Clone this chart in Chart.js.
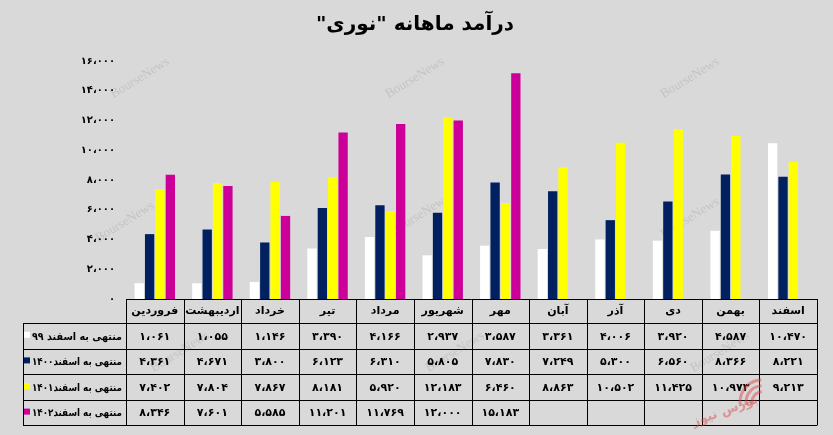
<!DOCTYPE html>
<html>
<head>
<meta charset="utf-8">
<script src="https://cdn.jsdelivr.net/npm/chart.js@4.4.0/dist/chart.umd.min.js"></script>
<style>
  html, body { margin: 0; padding: 0; background: #d9d9d9; }
  #wrap { width: 833px; height: 435px; position: relative; }
</style>
</head>
<body>
<div id="wrap"><canvas id="c" width="833" height="435"></canvas></div>
<script>
const title = 'درآمد ماهانه "نوری"';
const months = ['فروردین','اردیبهشت','خرداد','تیر','مرداد','شهریور','مهر','آبان','آذر','دی','بهمن','اسفند'];
const seriesNames = ['منتهی به اسفند ۹۹','منتهی به اسفند۱۴۰۰','منتهی به اسفند۱۴۰۱','منتهی به اسفند۱۴۰۲'];
const seriesColors = ['#ffffff','#002060','#ffff00','#cc0099'];
const s99   = [1061, 1055, 1146, 3390, 4166, 2937, 3587, 3361, 4006, 3920, 4587, 10470];
const s1400 = [4361, 4671, 3800, 6123, 6310, 5805, 7830, 7249, 5300, 6560, 8366, 8221];
const s1401 = [7402, 7804, 7867, 8181, 5920, 12183, 6460, 8863, 10502, 11425, 10973, 9213];
const s1402 = [8346, 7601, 5585, 11201, 11769, 12000, 15183, null, null, null, null, null];
const yTicks = [0, 2000, 4000, 6000, 8000, 10000, 12000, 14000, 16000];
const allSeries = [s99, s1400, s1401, s1402];

const FONT = "'DejaVu Sans', sans-serif";
function fa(n) {
  const s = Math.round(n).toString().replace(/\B(?=(\d{3})+(?!\d))/g, '،');
  return s.replace(/\d/g, d => '۰۱۲۳۴۵۶۷۸۹'[d]);
}

const TABLE_LEFT = 23;
const ROW_H = 25.6;

const decor = {
  id: 'decor',
  beforeDraw(chart) {
    const ctx = chart.ctx;
    ctx.save();
    ctx.fillStyle = '#d9d9d9';
    ctx.fillRect(0, 0, chart.width, chart.height);
    ctx.font = "13px 'Liberation Serif', serif";
    ctx.fillStyle = 'rgba(150,150,150,0.3)';
    const marks = [[140,78],[125,222],[415,78],[420,215],[690,78],[690,218],[180,352],[455,352],[720,352]];
    marks.forEach(([x,y]) => {
      ctx.save(); ctx.translate(x,y); ctx.rotate(-0.55);
      ctx.textAlign = 'center'; ctx.textBaseline = 'middle';
      ctx.fillText('BourseNews', 0, 0);
      ctx.restore();
    });
    ctx.restore();
  },
  afterDraw(chart) {
    const ctx = chart.ctx;
    const x = chart.scales.x;
    const area = chart.chartArea;
    ctx.save();
    ctx.direction = 'rtl';
    ctx.font = "bold 20px " + FONT;
    ctx.fillStyle = '#000';
    ctx.textAlign = 'center';
    ctx.textBaseline = 'middle';
    ctx.fillText(title, 415, 25);

    const top = area.bottom;
    const headBottom = top + 24;
    const colW = (area.right - area.left) / months.length;
    ctx.strokeStyle = '#000';
    ctx.lineWidth = 1;
    ctx.beginPath();
    ctx.moveTo(area.left, top + 0.5); ctx.lineTo(area.right, top + 0.5);
    for (let i = 0; i <= months.length; i++) {
      const xx = Math.round(area.left + i * colW) + 0.5;
      ctx.moveTo(xx, top); ctx.lineTo(xx, headBottom + ROW_H * 4);
    }
    for (let r = 0; r <= 4; r++) {
      const yy = Math.round(headBottom + r * ROW_H) + 0.5;
      ctx.moveTo(TABLE_LEFT, yy); ctx.lineTo(area.right, yy);
    }
    ctx.moveTo(TABLE_LEFT + 0.5, headBottom); ctx.lineTo(TABLE_LEFT + 0.5, headBottom + ROW_H * 4);
    ctx.stroke();

    ctx.textBaseline = 'middle';
    for (let r = 0; r < 4; r++) {
      const cy = headBottom + r * ROW_H + ROW_H / 2 + 1;
      ctx.font = "bold 11px " + FONT;
      ctx.fillStyle = '#000';
      allSeries[r].forEach((v, i) => {
        if (v === null) return;
        ctx.textAlign = 'center';
        ctx.fillText(fa(v), x.getPixelForValue(i), cy);
      });
      ctx.textAlign = 'right';
      ctx.font = "bold 10.5px " + FONT;
      const label = seriesNames[r];
      const maxW = 90;
      const w = Math.min(ctx.measureText(label).width, maxW);
      ctx.fillText(label, area.left - 4, cy, maxW);
      const sx = area.left - 4 - w - 8;
      ctx.fillStyle = seriesColors[r];
      ctx.fillRect(sx, cy - 5, 6, 6);
    }

    ctx.save();
    ctx.translate(738, 400);
    ctx.rotate(-0.35);
    ctx.strokeStyle = 'rgba(220,60,60,0.45)';
    ctx.lineWidth = 3;
    for (let k = 0; k < 3; k++) {
      ctx.beginPath();
      ctx.arc(22, 10, 10 + k * 6, Math.PI * 1.05, Math.PI * 1.6);
      ctx.stroke();
    }
    ctx.fillStyle = 'rgba(220,60,60,0.45)';
    ctx.font = "bold 13px " + FONT;
    ctx.textAlign = 'center';
    ctx.fillText('بورس نیوز', -16, 6);
    ctx.restore();

    ctx.restore();
  }
};

new Chart(document.getElementById('c'), {
  type: 'bar',
  data: {
    labels: months,
    datasets: allSeries.map((d, i) => ({
      label: seriesNames[i],
      data: d,
      backgroundColor: seriesColors[i],
      borderWidth: 0,
      categoryPercentage: 0.72,
      barPercentage: 0.9
    }))
  },
  options: {
    responsive: false,
    animation: false,
    layout: { padding: { left: 0, right: 16, top: 61, bottom: 112 } },
    plugins: { legend: { display: false }, title: { display: false }, tooltip: { enabled: false } },
    scales: {
      x: {
        grid: { display: false, drawTicks: false },
        border: { display: false },
        ticks: { color: '#000', font: { family: FONT, size: 11, weight: 'bold' }, padding: 6, maxRotation: 0, autoSkip: false },
        afterFit(s) { s.height = 24; }
      },
      y: {
        min: 0, max: 16000,
        afterBuildTicks(s) { s.ticks = yTicks.map(v => ({ value: v })); },
        grid: { display: false, drawTicks: false },
        border: { display: false },
        ticks: { color: '#000', font: { family: FONT, size: 10, weight: 'bold' }, padding: 11, callback: v => fa(v) },
        afterFit(s) { s.width = 126; }
      }
    }
  },
  plugins: [decor]
});
</script>
</body>
</html>
